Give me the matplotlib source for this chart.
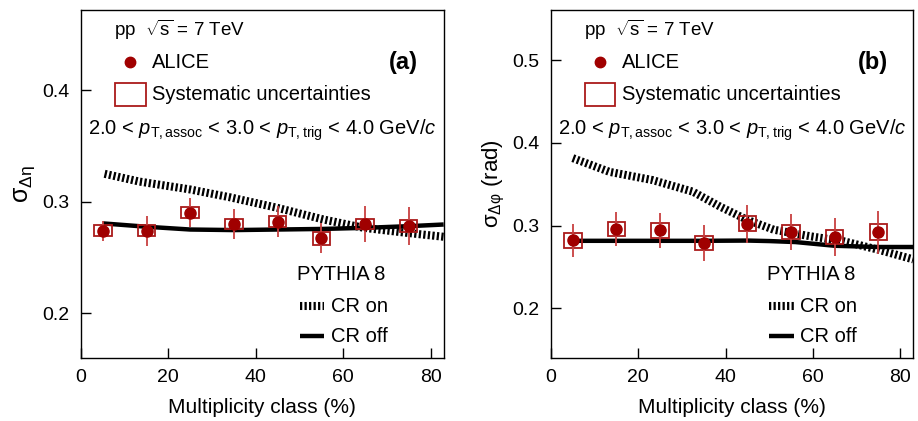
import matplotlib
matplotlib.use("Agg")
import matplotlib.pyplot as plt
from matplotlib.patches import Rectangle
from matplotlib.lines import Line2D

plt.rcParams["font.family"] = ["Liberation Sans", "DejaVu Sans"]
plt.rcParams["mathtext.fontset"] = "custom"
plt.rcParams["mathtext.rm"] = "Liberation Sans"
plt.rcParams["mathtext.it"] = "Liberation Sans:italic"
plt.rcParams["mathtext.bf"] = "Liberation Sans:bold"

# multiplicity classes
mult = [5, 15, 25, 35, 45, 55, 65, 75]

# (a) sigma_deta
deta = [0.274, 0.274, 0.290, 0.280, 0.282, 0.267, 0.280, 0.278]
deta_stat = [0.009, 0.0135, 0.013, 0.0135, 0.014, 0.0135, 0.016, 0.017]
deta_sys = [0.0047, 0.0047, 0.005, 0.0047, 0.0047, 0.0057, 0.0047, 0.0055]

deta_on_x = [5.4, 13.4, 24.9, 34, 44.8, 55.5, 64.6, 74.6, 83]
deta_on_y = [0.325, 0.318, 0.311, 0.304, 0.2946, 0.284, 0.2766, 0.272, 0.2685]
deta_off_x = [5, 15, 25, 35, 45, 55, 65, 75, 83]
deta_off_y = [0.2805, 0.2775, 0.275, 0.2745, 0.275, 0.2755, 0.2765, 0.278, 0.2795]

# (b) sigma_dphi
dphi = [0.282, 0.296, 0.294, 0.279, 0.302, 0.292, 0.286, 0.292]
dphi_stat = [0.020, 0.0206, 0.0216, 0.0216, 0.0226, 0.022, 0.0228, 0.026]
dphi_sys = [0.0095, 0.0087, 0.009, 0.0089, 0.009, 0.0085, 0.0085, 0.0095]

dphi_on_x = [5, 13.4, 23.3, 32.5, 38.7, 44.9, 51, 59.4, 67, 74.8, 83]
dphi_on_y = [0.3816, 0.365, 0.355, 0.341, 0.323, 0.307, 0.295, 0.287, 0.281, 0.271, 0.259]
dphi_off_x = [5, 15, 25, 35, 45, 50, 56, 65, 75, 83]
dphi_off_y = [0.2815, 0.2815, 0.2815, 0.2815, 0.2818, 0.2812, 0.280, 0.2755, 0.274, 0.274]

dark_red = "#a00000"
err_red = "#c84040"
box_red = "#aa1a1a"
hatch_ls = (0, (0.28, 0.28))

fig = plt.figure(figsize=(9.18, 4.21), dpi=100)
ax_a = fig.add_axes([0.0882, 0.1504, 0.3951, 0.8259])
ax_b = fig.add_axes([0.6002, 0.1504, 0.3947, 0.8259])


def draw_panel(ax, y, stat, sys, on_x, on_y, off_x, off_y, ylim, yticks):
    ax.plot(on_x, on_y, color="black", lw=5.8, linestyle=hatch_ls, zorder=2)
    ax.plot(off_x, off_y, color="black", lw=3.2, solid_capstyle="butt", zorder=2)
    for xi, yi, s in zip(mult, y, sys):
        ax.add_patch(Rectangle((xi - 2, yi - s), 4, 2 * s, fill=False,
                               edgecolor=box_red, lw=1.3, zorder=3))
    ax.errorbar(mult, y, yerr=stat, fmt="none", ecolor=err_red, elinewidth=1.3,
                capsize=0, zorder=4)
    ax.plot(mult, y, "o", color=dark_red, ms=8, zorder=5)
    ax.set_xlim(0, 83)
    ax.set_ylim(*ylim)
    ax.set_xticks([0, 20, 40, 60, 80])
    ax.set_yticks(yticks)
    ax.set_yticklabels([f"{t:.1f}" for t in yticks])
    ax.tick_params(direction="in", length=7.5, width=1, labelsize=14, pad=8)
    ax.set_xlabel("Multiplicity class (%)", fontsize=15, labelpad=9)
    for sp in ax.spines.values():
        sp.set_linewidth(1)


draw_panel(ax_a, deta, deta_stat, deta_sys, deta_on_x, deta_on_y,
           deta_off_x, deta_off_y, (0.16, 0.472), [0.2, 0.3, 0.4])
draw_panel(ax_b, dphi, dphi_stat, dphi_sys, dphi_on_x, dphi_on_y,
           dphi_off_x, dphi_off_y, (0.14, 0.561), [0.2, 0.3, 0.4, 0.5])

ax_a.set_ylabel(r"$\mathrm{\sigma}_{\mathrm{\Delta\eta}}$", fontsize=18, labelpad=4)
ax_b.set_ylabel(r"$\mathrm{\sigma}_{\mathrm{\Delta\varphi}}$ (rad)", fontsize=16,
                labelpad=4)

for ax, tag in [(ax_a, "(a)"), (ax_b, "(b)")]:
    tr = ax.transAxes
    ax.text(0.09, 0.942, r"pp  $\sqrt{\mathrm{s}}$ = 7 TeV", transform=tr,
            fontsize=13.5, va="center")
    ax.plot([0.135], [0.85], "o", color=dark_red, ms=7.5, transform=tr,
            clip_on=False)
    ax.text(0.195, 0.85, "ALICE", transform=tr, fontsize=14.5, va="center")
    ax.add_patch(Rectangle((0.093, 0.725), 0.085, 0.065, transform=tr,
                           fill=False, edgecolor=box_red, lw=1.3))
    ax.text(0.195, 0.757, "Systematic uncertainties", transform=tr,
            fontsize=14.5, va="center")
    ax.text(0.93, 0.85, tag, transform=tr, fontsize=17, fontweight="bold",
            va="center", ha="right")
    ax.text(0.02, 0.655,
            r"2.0 < $p_{\rm T,assoc}$ < 3.0 < $p_{\rm T,trig}$ < 4.0 GeV/$c$",
            transform=tr, fontsize=14.5, va="center")
    ax.text(0.595, 0.238, "PYTHIA 8", transform=tr, fontsize=14.5, va="center")
    ax.add_line(Line2D([0.603, 0.67], [0.148, 0.148], transform=tr,
                       color="black", lw=5.8, linestyle=hatch_ls))
    ax.text(0.688, 0.148, "CR on", transform=tr, fontsize=14.5, va="center")
    ax.add_line(Line2D([0.603, 0.67], [0.062, 0.062], transform=tr,
                       color="black", lw=3.2, solid_capstyle="butt"))
    ax.text(0.688, 0.062, "CR off", transform=tr, fontsize=14.5, va="center")

fig.savefig("out.png", dpi=100)
